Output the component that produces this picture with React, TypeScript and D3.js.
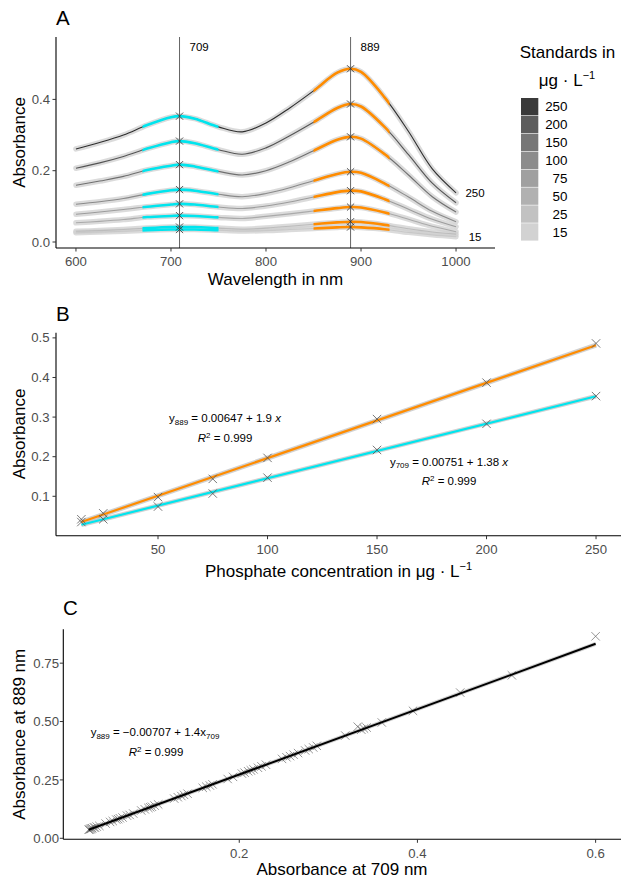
import React from 'react';
import * as d3 from 'd3';

// ---------- Panel A data ----------
const wavelengths = [600, 625, 650, 675, 700, 709, 725, 750, 775, 800, 825, 850, 875, 889, 900, 925, 950, 975, 1000];
const standards = [250, 200, 150, 100, 75, 50, 25, 15];
const spec250 = [0.261, 0.279, 0.300, 0.328, 0.350, 0.353, 0.346, 0.323, 0.309, 0.334, 0.376, 0.424, 0.475, 0.486, 0.477, 0.405, 0.310, 0.205, 0.138];
const spec200 = [0.207, 0.222, 0.240, 0.262, 0.280, 0.283, 0.277, 0.259, 0.246, 0.264, 0.298, 0.336, 0.376, 0.387, 0.380, 0.322, 0.245, 0.165, 0.110];
const spec150 = [0.159, 0.171, 0.184, 0.202, 0.214, 0.217, 0.212, 0.198, 0.188, 0.200, 0.225, 0.256, 0.287, 0.295, 0.290, 0.246, 0.188, 0.127, 0.084];
const spec100 = [0.106, 0.113, 0.122, 0.135, 0.145, 0.147, 0.144, 0.134, 0.127, 0.136, 0.152, 0.172, 0.191, 0.197, 0.194, 0.164, 0.126, 0.086, 0.057];
const spec75 = [0.078, 0.084, 0.091, 0.099, 0.105, 0.107, 0.105, 0.098, 0.094, 0.101, 0.112, 0.126, 0.140, 0.144, 0.142, 0.120, 0.092, 0.064, 0.043];
const spec50 = [0.054, 0.058, 0.063, 0.070, 0.073, 0.074, 0.073, 0.069, 0.066, 0.072, 0.079, 0.087, 0.095, 0.098, 0.097, 0.083, 0.064, 0.044, 0.029];
const spec25 = [0.030, 0.032, 0.035, 0.039, 0.042, 0.042, 0.042, 0.039, 0.036, 0.039, 0.044, 0.050, 0.055, 0.057, 0.056, 0.048, 0.037, 0.028, 0.022];
const spec15 = [0.026, 0.028, 0.030, 0.033, 0.035, 0.035, 0.035, 0.033, 0.031, 0.032, 0.035, 0.038, 0.041, 0.042, 0.041, 0.036, 0.027, 0.020, 0.015];
const spectra = [spec250, spec200, spec150, spec100, spec75, spec50, spec25, spec15];
const peakWavelengths = [709, 889];
const band709 = [670, 750];
const band889 = [850, 930];
const xTicksA = [600, 700, 800, 900, 1000];
const yTicksA = [0, 0.2, 0.4];

// ---------- Panel B data ----------
const concentrations = [15, 25, 50, 75, 100, 150, 200, 250];
const abs889 = [0.042, 0.057, 0.098, 0.144, 0.197, 0.295, 0.387, 0.486];
const abs709 = [0.035, 0.042, 0.074, 0.107, 0.147, 0.217, 0.283, 0.353];
const fit889 = [0.00647, 1.9];
const fit709 = [0.00751, 1.38];
const xTicksB = [50, 100, 150, 200, 250];
const yTicksB = [0.1, 0.2, 0.3, 0.4, 0.5];

// ---------- Panel C data ----------
const sampleAbs709 = [0.031, 0.032, 0.033, 0.034, 0.035, 0.037, 0.038, 0.040, 0.043, 0.050, 0.055, 0.058, 0.062, 0.064, 0.066, 0.069, 0.074, 0.077, 0.081, 0.090, 0.094, 0.098, 0.100, 0.102, 0.105, 0.109, 0.127, 0.131, 0.135, 0.138, 0.142, 0.159, 0.163, 0.167, 0.170, 0.187, 0.193, 0.203, 0.206, 0.210, 0.213, 0.216, 0.221, 0.225, 0.230, 0.248, 0.253, 0.257, 0.261, 0.266, 0.274, 0.278, 0.283, 0.287, 0.319, 0.333, 0.337, 0.340, 0.343, 0.360, 0.395, 0.448, 0.506, 0.600];
const sampleAbs889 = [0.037, 0.038, 0.040, 0.041, 0.043, 0.046, 0.046, 0.050, 0.053, 0.063, 0.070, 0.074, 0.080, 0.082, 0.086, 0.089, 0.097, 0.100, 0.106, 0.119, 0.124, 0.130, 0.133, 0.135, 0.140, 0.145, 0.170, 0.176, 0.181, 0.186, 0.191, 0.216, 0.221, 0.226, 0.231, 0.254, 0.263, 0.277, 0.281, 0.287, 0.291, 0.295, 0.302, 0.308, 0.315, 0.340, 0.347, 0.352, 0.358, 0.365, 0.376, 0.382, 0.389, 0.396, 0.440, 0.478, 0.465, 0.470, 0.474, 0.496, 0.546, 0.624, 0.698, 0.865];
const fitC = [-0.00707, 1.4];
const xTicksC = [0.2, 0.4, 0.6];
const yTicksC = [0, 0.25, 0.5, 0.75];

const greys = ['#3a3a3a', '#5d5d5d', '#777777', '#8c8c8c', '#a0a0a0', '#b1b1b1', '#c2c2c2', '#d2d2d2'];
const lineGreys = ['#2e2e2e', '#555555', '#707070', '#8a8a8a', '#9c9c9c', '#aaaaaa', '#bcbcbc', '#c8c8c8'];
const CYAN = '#00e5ee';
const ORANGE = '#ff8c00';
const FONT = '"Liberation Sans", Arial, sans-serif';
const TICK_COLOR = '#4d4d4d';

function Cross({ x, y, s = 4, color = '#333', w = 0.8 }) {
  return (
    <g stroke={color} strokeWidth={w}>
      <line x1={x - s} y1={y - s} x2={x + s} y2={y + s} />
      <line x1={x - s} y1={y + s} x2={x + s} y2={y - s} />
    </g>
  );
}

function Axes({ xs, ys, xTicks, yTicks, xFmt, yFmt, xLabelY, yLabelX }) {
  const [x0, x1] = xs.range();
  const [y0, y1] = ys.range();
  return (
    <g fontFamily={FONT}>
      <line x1={x0} x2={x1} y1={y0} y2={y0} stroke="#000" strokeWidth={1.1} />
      <line x1={x0} x2={x0} y1={y0} y2={y1} stroke="#000" strokeWidth={1.1} />
      {xTicks.map((t) => (
        <g key={'x' + t}>
          <line x1={xs(t)} x2={xs(t)} y1={y0} y2={y0 + 3.5} stroke="#333" strokeWidth={1} />
          <text x={xs(t)} y={xLabelY} textAnchor="middle" fontSize={13.2} fill={TICK_COLOR}>{xFmt(t)}</text>
        </g>
      ))}
      {yTicks.map((t) => (
        <g key={'y' + t}>
          <line x1={x0 - 3.5} x2={x0} y1={ys(t)} y2={ys(t)} stroke="#333" strokeWidth={1} />
          <text x={yLabelX} y={ys(t) + 4.6} textAnchor="end" fontSize={13.2} fill={TICK_COLOR}>{yFmt(t)}</text>
        </g>
      ))}
    </g>
  );
}

function PanelA() {
  const xs = d3.scaleLinear().domain([579, 1041]).range([56, 495]);
  const ys = d3.scaleLinear().domain([-0.0168, 0.575]).range([248, 37]);
  const line = d3
    .line<number>()
    .x((_, i) => xs(wavelengths[i]))
    .y((d) => ys(d))
    .curve(d3.curveCatmullRom.alpha(0.5));
  const peakIdx = peakWavelengths.map((w) => wavelengths.indexOf(w));
  const lastIdx = wavelengths.length - 1;
  return (
    <g>
      <defs>
        <clipPath id="clip709">
          <rect x={xs(band709[0])} y={0} width={xs(band709[1]) - xs(band709[0])} height={300} />
        </clipPath>
        <clipPath id="clip889">
          <rect x={xs(band889[0])} y={0} width={xs(band889[1]) - xs(band889[0])} height={300} />
        </clipPath>
      </defs>
      {spectra.map((s, i) => (
        <path key={'r' + i} d={line(s) || ''} fill="none" stroke="#cfcfcf" strokeOpacity={0.75} strokeWidth={5.5} strokeLinecap="round" />
      ))}
      {spectra.map((s, i) => (
        <path key={'l' + i} d={line(s) || ''} fill="none" stroke={lineGreys[i]} strokeWidth={1.1} />
      ))}
      {spectra.map((s, i) => (
        <g key={'b' + i}>
          <path d={line(s) || ''} fill="none" stroke={CYAN} strokeWidth={2.6} clipPath="url(#clip709)" />
          <path d={line(s) || ''} fill="none" stroke={ORANGE} strokeWidth={2.6} clipPath="url(#clip889)" />
        </g>
      ))}
      {peakWavelengths.map((w) => (
        <g key={'v' + w}>
          <line x1={xs(w)} x2={xs(w)} y1={ys.range()[1]} y2={ys.range()[0]} stroke="#666" strokeWidth={1} />
          <text x={xs(w) + 10} y={51} fontSize={11.5} fontFamily={FONT} fill="#000">{w}</text>
        </g>
      ))}
      {spectra.map((s, i) =>
        peakIdx.map((pi) => <Cross key={'c' + i + '-' + pi} x={xs(wavelengths[pi])} y={ys(s[pi])} s={3.6} color="#333" w={0.8} />)
      )}
      <text x={xs(1020)} y={ys(spec250[lastIdx]) + 4} textAnchor="middle" fontSize={11.5} fontFamily={FONT}>{standards[0]}</text>
      <text x={xs(1020)} y={ys(spec15[lastIdx]) + 4} textAnchor="middle" fontSize={11.5} fontFamily={FONT}>{standards[standards.length - 1]}</text>
      <Axes xs={xs} ys={ys} xTicks={xTicksA} yTicks={yTicksA} xFmt={(t) => String(t)} yFmt={(t) => t.toFixed(1)} xLabelY={266} yLabelX={50} />
      <text x={275.5} y={285} textAnchor="middle" fontSize={17} fontFamily={FONT}>Wavelength in nm</text>
      <text transform="translate(24.5,142.5) rotate(-90)" textAnchor="middle" fontSize={17} fontFamily={FONT}>Absorbance</text>
      <text x={56} y={25} fontSize={20.5} fontFamily={FONT}>A</text>
      {/* legend */}
      <g fontFamily={FONT}>
        <text x={567.5} y={58} textAnchor="middle" fontSize={17}>Standards in</text>
        <text x={567} y={86} textAnchor="middle" fontSize={17}>
          μg · L<tspan dy={-7} fontSize={11}>−1</tspan>
        </text>
        {standards.map((s, i) => (
          <g key={'lg' + s}>
            <rect x={521} y={98 + i * 17.9} width={17.3} height={17.3} fill={greys[i]} />
            <text x={567.5} y={98 + i * 17.9 + 13.3} textAnchor="end" fontSize={13.4} fill="#000">{s}</text>
          </g>
        ))}
      </g>
    </g>
  );
}

function Eq({ x, y, sub, a, b, xSub = '' }) {
  return (
    <g fontFamily={FONT} fontSize={11.5} fill="#000">
      <text x={x} y={y} textAnchor="middle">
        y<tspan fontSize={8} dy={2.5}>{sub}</tspan>
        <tspan dy={-2.5}> = {a < 0 ? '−' + Math.abs(a) : a} + {b}</tspan>
        {xSub ? (
          <>
            <tspan>x</tspan>
            <tspan fontSize={8} dy={2.5}>{xSub}</tspan>
          </>
        ) : (
          <tspan fontStyle="italic"> x</tspan>
        )}
      </text>
    </g>
  );
}

function R2({ x, y }) {
  return (
    <text x={x} y={y} textAnchor="middle" fontFamily={FONT} fontSize={11.5}>
      <tspan fontStyle="italic">R</tspan>
      <tspan fontSize={8} dy={-4.5}>2</tspan>
      <tspan dy={4.5}> = 0.999</tspan>
    </text>
  );
}

function PanelB() {
  const xs = d3.scaleLinear().domain([3.42, 261.4]).range([56, 621]);
  const ys = d3.scaleLinear().domain([0.0005, 0.5131]).range([535.7, 332.7]);
  const ext = d3.extent(concentrations) as [number, number];
  const fitLine = (f: number[]) =>
    d3
      .line<number>()
      .x((c) => xs(c))
      .y((c) => ys(f[0] + (f[1] * c) / 1000))(ext) || '';
  return (
    <g>
      <path d={fitLine(fit889)} stroke="#bdbdbd" strokeOpacity={0.7} strokeWidth={5} fill="none" />
      <path d={fitLine(fit709)} stroke="#bdbdbd" strokeOpacity={0.7} strokeWidth={4.5} fill="none" />
      <path d={fitLine(fit889)} stroke={ORANGE} strokeWidth={2.2} fill="none" />
      <path d={fitLine(fit709)} stroke={CYAN} strokeWidth={2.2} fill="none" />
      {concentrations.map((c, i) => (
        <g key={'p' + c}>
          <Cross x={xs(c)} y={ys(abs889[i])} s={4.2} color="#555" w={0.8} />
          <Cross x={xs(c)} y={ys(abs709[i])} s={4.2} color="#555" w={0.8} />
        </g>
      ))}
      <Axes xs={xs} ys={ys} xTicks={xTicksB} yTicks={yTicksB} xFmt={(t) => String(t)} yFmt={(t) => t.toFixed(1)} xLabelY={553.5} yLabelX={49.5} />
      <Eq x={225} y={422} sub="889" a={fit889[0]} b={fit889[1]} />
      <R2 x={225} y={442} />
      <Eq x={449} y={465.7} sub="709" a={fit709[0]} b={fit709[1]} />
      <R2 x={449} y={485} />
      <text x={338.5} y={577} textAnchor="middle" fontSize={17} fontFamily={FONT}>
        Phosphate concentration in μg · L<tspan dy={-7} fontSize={11}>−1</tspan>
      </text>
      <text transform="translate(24.5,434) rotate(-90)" textAnchor="middle" fontSize={17} fontFamily={FONT}>Absorbance</text>
      <text x={56} y={321} fontSize={20.5} fontFamily={FONT}>B</text>
    </g>
  );
}

function PanelC() {
  const xs = d3.scaleLinear().domain([0.0025, 0.6285]).range([63.3, 621]);
  const ys = d3.scaleLinear().domain([-0.0043, 0.895]).range([839.3, 629.3]);
  const ext = d3.extent(sampleAbs709) as [number, number];
  const fit =
    d3
      .line<number>()
      .x((v) => xs(v))
      .y((v) => ys(fitC[0] + fitC[1] * v))(ext) || '';
  return (
    <g>
      <path d={fit} stroke="#d0d0d0" strokeWidth={4} fill="none" />
      {sampleAbs709.map((v, i) => (
        <Cross key={'s' + i} x={xs(v)} y={ys(sampleAbs889[i])} s={4.2} color="#666" w={0.7} />
      ))}
      <path d={fit} stroke="#000" strokeWidth={2} fill="none" />
      <Axes xs={xs} ys={ys} xTicks={xTicksC} yTicks={yTicksC} xFmt={(t) => t.toFixed(1)} yFmt={(t) => t.toFixed(2)} xLabelY={857.8} yLabelX={59} />
      <Eq x={155} y={736} sub="889" a={fitC[0]} b={fitC[1]} xSub="709" />
      <R2 x={156} y={756} />
      <text x={342} y={875} textAnchor="middle" fontSize={17} fontFamily={FONT}>Absorbance at 709 nm</text>
      <text transform="translate(24.5,734.3) rotate(-90)" textAnchor="middle" fontSize={17} fontFamily={FONT}>Absorbance at 889 nm</text>
      <text x={63} y={615} fontSize={20.5} fontFamily={FONT}>C</text>
    </g>
  );
}

export default function App() {
  return (
    <svg
      width={622}
      height={879}
      viewBox="0 0 622 879"
      style={{ position: 'absolute', left: 0, top: 0, background: '#fff' }}
    >
      <rect x={0} y={0} width={622} height={879} fill="#fff" />
      <PanelA />
      <PanelB />
      <PanelC />
    </svg>
  );
}
